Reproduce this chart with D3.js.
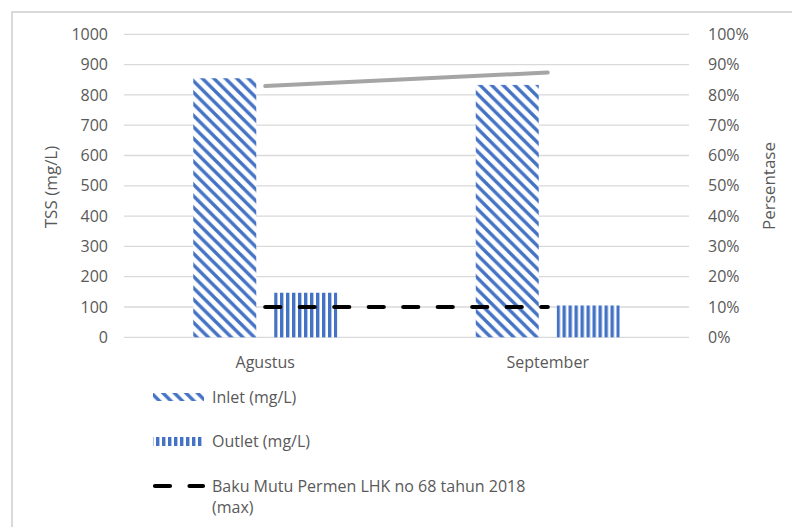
<!DOCTYPE html>
<html>
<head>
<meta charset="utf-8">
<script src="https://cdnjs.cloudflare.com/ajax/libs/d3/7.8.5/d3.min.js"></script>
<style>
  html, body { margin: 0; padding: 0; background: #fff; }
  svg { display: block; }
  text { font-family: "Open Sans", "Liberation Sans", sans-serif; fill: #595959; }
</style>
</head>
<body>
<svg id="chart" width="792" height="527"></svg>
<script>
// Monthly TSS measurements (mg/L)
const months = ["Agustus", "September"];
const inlet = [855, 833];
const outlet = [147, 105];
// Removal efficiency (%), plotted on the right axis
const efficiency = [82.9, 87.4];
// Quality standard (max), mg/L
const standard = [100, 100];

const leftTicks = [0, 100, 200, 300, 400, 500, 600, 700, 800, 900, 1000];
const rightTicks = [0, 10, 20, 30, 40, 50, 60, 70, 80, 90, 100];

const seriesNames = ["Inlet (mg/L)", "Outlet (mg/L)", "Baku Mutu Permen LHK no 68 tahun 2018 (max)"];

const blue = "#4472C4";
const fontSize = "16px";
const svg = d3.select("#chart");

// Hatch patterns
const defs = svg.append("defs");
const diag = defs.append("pattern")
  .attr("id", "diag").attr("patternUnits", "userSpaceOnUse")
  .attr("width", 11.5).attr("height", 11.5);
diag.append("rect").attr("width", 11.5).attr("height", 11.5).attr("fill", "#fff");
diag.append("path")
  .attr("d", "M-3,-3 L14.5,14.5 M-3,8.5 L3,14.5 M8.5,-3 L14.5,3")
  .attr("stroke", blue).attr("stroke-width", 3.4);

const vert = defs.append("pattern")
  .attr("id", "vert").attr("patternUnits", "userSpaceOnUse")
  .attr("width", 6).attr("height", 6);
vert.append("rect").attr("width", 6).attr("height", 6).attr("fill", "#fff");
vert.append("rect").attr("x", 0).attr("width", 3.4).attr("height", 6).attr("fill", blue);

// Outer frame
svg.append("rect")
  .attr("x", 12).attr("y", 12).attr("width", 900).attr("height", 700)
  .attr("fill", "none").attr("stroke", "#d9d9d9").attr("stroke-width", 2);

const plot = { left: 124, right: 689, top: 34.3, bottom: 337.3 };

const y = d3.scaleLinear().domain([0, 1000]).range([plot.bottom, plot.top]);
const yPct = d3.scaleLinear().domain([0, 100]).range([plot.bottom, plot.top]);
const x0 = d3.scaleBand().domain(months).range([plot.left, plot.right]).padding(0);
const x1 = d3.scaleBand().domain(["inlet", "outlet"])
  .range([0, x0.bandwidth()]).paddingInner(0.222).paddingOuter(0.855);

// Gridlines
svg.append("g").selectAll("line").data(leftTicks).join("line")
  .attr("x1", plot.left).attr("x2", plot.right)
  .attr("y1", d => y(d)).attr("y2", d => y(d))
  .attr("stroke", "#d9d9d9").attr("stroke-width", 1.3);

// Left axis
const leftAxis = svg.append("g")
  .attr("transform", `translate(${plot.left - 16},0)`)
  .call(d3.axisLeft(y).tickValues(leftTicks).tickSize(0).tickPadding(0)
    .tickFormat(d3.format("d")));
leftAxis.select(".domain").remove();
leftAxis.selectAll("text").style("font-size", fontSize).style("fill", "#595959")
  .style("font-family", "'Open Sans', sans-serif");

// Right axis
const rightAxis = svg.append("g")
  .attr("transform", `translate(${plot.right + 19},0)`)
  .call(d3.axisRight(yPct).tickValues(rightTicks).tickSize(0).tickPadding(0)
    .tickFormat(d => d + "%"));
rightAxis.select(".domain").remove();
rightAxis.selectAll("text").style("font-size", fontSize).style("fill", "#595959")
  .style("font-family", "'Open Sans', sans-serif");

// Bars
const groups = svg.append("g").selectAll("g").data(months).join("g")
  .attr("transform", d => `translate(${x0(d)},0)`);
groups.append("rect")
  .attr("x", x1("inlet")).attr("width", x1.bandwidth())
  .attr("y", (d, i) => y(inlet[i])).attr("height", (d, i) => y(0) - y(inlet[i]))
  .attr("fill", "url(#diag)");
groups.append("rect")
  .attr("x", x1("outlet")).attr("width", x1.bandwidth())
  .attr("y", (d, i) => y(outlet[i])).attr("height", (d, i) => y(0) - y(outlet[i]))
  .attr("fill", "url(#vert)");

const cx = d => x0(d) + x0.bandwidth() / 2;

// Standard line (dashed)
svg.append("path")
  .datum(months)
  .attr("d", d3.line().x(cx).y((d, i) => y(standard[i])))
  .attr("fill", "none").attr("stroke", "#000").attr("stroke-width", 4.2)
  .attr("stroke-linecap", "round").attr("stroke-dasharray", "15,19.5");

// Efficiency line
svg.append("path")
  .datum(months)
  .attr("d", d3.line().x(cx).y((d, i) => yPct(efficiency[i])))
  .attr("fill", "none").attr("stroke", "#a5a5a5").attr("stroke-width", 4)
  .attr("stroke-linecap", "round");

// Category labels
svg.append("g").selectAll("text").data(months).join("text")
  .attr("x", cx).attr("y", 368).attr("text-anchor", "middle")
  .style("font-size", fontSize).text(d => d);

// Axis titles
svg.append("text")
  .attr("transform", "translate(57,187) rotate(-90)")
  .attr("text-anchor", "middle").style("font-size", "17px").text("TSS (mg/L)");
svg.append("text")
  .attr("transform", "translate(775,186) rotate(-90)")
  .attr("text-anchor", "middle").style("font-size", "17px").text("Persentase");

// Legend
const legend = svg.append("g");
legend.append("rect").attr("x", 153).attr("y", 393).attr("width", 51).attr("height", 8)
  .attr("fill", "url(#diag)");
legend.append("rect").attr("x", 153).attr("y", 437).attr("width", 51).attr("height", 9)
  .attr("fill", "url(#vert)");
legend.append("line").attr("x1", 155).attr("x2", 203).attr("y1", 486).attr("y2", 486)
  .attr("stroke", "#000").attr("stroke-width", 4.2).attr("stroke-linecap", "round")
  .attr("stroke-dasharray", "15,19.5");

legend.append("text").attr("x", 212).attr("y", 402.5).style("font-size", fontSize).text(seriesNames[0]);
legend.append("text").attr("x", 212).attr("y", 446.5).style("font-size", fontSize).text(seriesNames[1]);
const lt = legend.append("text").attr("x", 212).attr("y", 491.5).style("font-size", fontSize);
lt.append("tspan").attr("x", 212).text("Baku Mutu Permen LHK no 68 tahun 2018");
lt.append("tspan").attr("x", 212).attr("dy", 21).text("(max)");
</script>
</body>
</html>
